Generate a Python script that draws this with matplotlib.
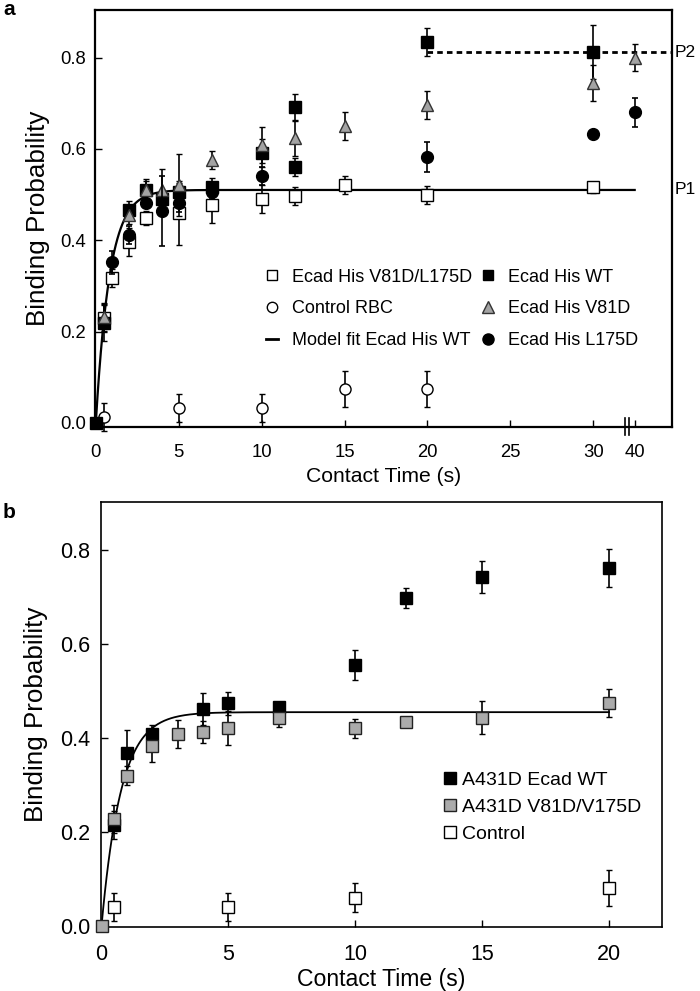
import numpy as np
import matplotlib.pyplot as plt
from matplotlib.lines import Line2D

plt.rcParams['font.family'] = ['Liberation Sans', 'DejaVu Sans']

# ---------------- panel a: Ecad His constructs ----------------
wt_t = [0, 0.5, 2, 3, 4, 5, 7, 10, 12, 12, 20, 30]
wt_p = [0.0, 0.219, 0.466, 0.51, 0.49, 0.505, 0.516, 0.591, 0.691, 0.56, 0.834, 0.812]
wt_err = [0, 0.04, 0.02, 0.02, 0.02, 0.02, 0.02, 0.03, 0.03, 0.02, 0.03, 0.06]

v81d_t = [0.5, 2, 3, 4, 5, 7, 10, 12, 15, 20, 30, 40]
v81d_p = [0.232, 0.455, 0.51, 0.51, 0.521, 0.575, 0.608, 0.624, 0.65, 0.696, 0.744, 0.80]
v81d_err = [0.03, 0.02, 0.025, 0.045, 0.068, 0.02, 0.04, 0.04, 0.03, 0.03, 0.04, 0.03]

l175d_t = [1, 2, 3, 4, 5, 7, 10, 20, 30, 40]
l175d_p = [0.352, 0.411, 0.481, 0.464, 0.481, 0.505, 0.54, 0.582, 0.632, 0.68]
l175d_err = [0.025, 0.02, 0.01, 0.077, 0.02, 0.015, 0.02, 0.032, 0, 0.032]

dbl_t = [0.5, 1, 2, 3, 5, 7, 10, 12, 15, 20, 30]
dbl_p = [0.23, 0.317, 0.396, 0.449, 0.46, 0.477, 0.49, 0.497, 0.521, 0.499, 0.516]
dbl_err = [0.03, 0.02, 0.03, 0.015, 0.07, 0.04, 0.03, 0.02, 0.02, 0.02, 0.012]

rbc_t = [0.5, 5, 10, 15, 20]
rbc_p = [0.013, 0.033, 0.033, 0.074, 0.074]
rbc_err = [0.031, 0.03, 0.03, 0.04, 0.04]

P1_a, K_a = 0.51, 1.2   # model fit Ecad His WT
P2_a = 0.812
xticks_a = [0, 5, 10, 15, 20, 25, 30, 40]

# ---------------- panel b: A431D cells ----------------
b_wt_t = [0.5, 1, 2, 4, 5, 7, 10, 12, 15, 20]
b_wt_p = [0.215, 0.368, 0.408, 0.462, 0.474, 0.466, 0.555, 0.698, 0.742, 0.762]
b_wt_err = [0.03, 0.05, 0.02, 0.034, 0.024, 0.01, 0.032, 0.021, 0.034, 0.04]

b_mut_t = [0, 0.5, 1, 2, 3, 4, 5, 7, 10, 12, 15, 20]
b_mut_p = [0.0, 0.228, 0.32, 0.383, 0.408, 0.413, 0.421, 0.443, 0.421, 0.434, 0.443, 0.474]
b_mut_err = [0, 0.03, 0.02, 0.034, 0.03, 0.023, 0.036, 0.02, 0.02, 0, 0.035, 0.03]

b_ctl_t = [0.5, 5, 10, 20]
b_ctl_p = [0.04, 0.04, 0.06, 0.081]
b_ctl_err = [0.03, 0.03, 0.031, 0.039]

P_b, K_b = 0.455, 1.3


def brk(t):
    # compress 30-40 s segment after the axis break
    t = np.asarray(t, dtype=float)
    return np.where(t > 30, 30 + (t - 30) * 0.25, t)


GRAY = '#a3a3a3'

fig = plt.figure(figsize=(7, 9.91), dpi=100)
ax1 = fig.add_axes([0.1357, 0.5691, 0.8243, 0.4208])
ax2 = fig.add_axes([0.1443, 0.0646, 0.8014, 0.4288])

# ---- panel a ----
eb = dict(ls='none', ecolor='black', elinewidth=1.2, capsize=2.2, capthick=1.2,
          clip_on=False)
ax1.errorbar(brk(dbl_t), dbl_p, yerr=dbl_err, marker='s', ms=8, mfc='white',
             mec='black', mew=1.0, zorder=3, **eb)
ax1.errorbar(brk(rbc_t), rbc_p, yerr=rbc_err, marker='o', ms=8, mfc='white',
             mec='black', mew=1.0, zorder=3, **eb)
ax1.errorbar(brk(wt_t), wt_p, yerr=wt_err, marker='s', ms=8, mfc='black',
             mec='black', mew=1.0, zorder=4, **eb)
ax1.errorbar(brk(v81d_t), v81d_p, yerr=v81d_err, marker='^', ms=9, mfc=GRAY,
             mec='#333333', mew=1.0, zorder=5, **eb)
ax1.errorbar(brk(l175d_t), l175d_p, yerr=l175d_err, marker='o', ms=8.5,
             mfc='black', mec='black', zorder=6, **eb)

t_fit = np.linspace(0, 40, 400)
ax1.plot(brk(t_fit), P1_a * (1 - np.exp(-K_a * t_fit)), color='black', lw=1.6,
         zorder=2)
ax1.plot([brk(20), 34.75], [P2_a, P2_a], color='black', lw=2,
         ls=(0, (2, 1.5)), zorder=2)

ax1.set_xlim(-0.05, 34.75)
ax1.set_ylim(-0.009, 0.904)
ax1.set_xticks(brk(xticks_a))
ax1.set_xticklabels([str(v) for v in xticks_a])
ax1.set_yticks([0.0, 0.2, 0.4, 0.6, 0.8])
ax1.set_yticklabels(['0.0', '0.2', '0.4', '0.6', '0.8'])
ax1.tick_params(direction='in', length=5, width=1, labelsize=13.3)
ax1.tick_params(axis='y', pad=6.5)
ax1.tick_params(axis='x', pad=12.5)
for s in ax1.spines.values():
    s.set_linewidth(1.6)

# axis break marks
for xb in (31.93, 32.17):
    ax1.plot([xb, xb], [-0.026, 0.010], color='black', lw=1.2, clip_on=False,
             zorder=7)

trans1 = ax1.get_yaxis_transform()
ax1.text(1.004, P2_a, 'P2', transform=trans1, ha='left', va='center', fontsize=12.5)
ax1.text(1.004, P1_a, 'P1', transform=trans1, ha='left', va='center', fontsize=12.5)

ax1.set_xlabel('Contact Time (s)', fontsize=15.2)
ax1.set_ylabel('Binding Probability', fontsize=18.7)
ax1.xaxis.set_label_coords(0.5, -0.096)
ax1.yaxis.set_label_coords(-0.078, 0.5)

h_a = [
    Line2D([], [], ls='none', marker='s', ms=7.5, mfc='white', mec='black'),
    Line2D([], [], ls='none', marker='o', ms=7.5, mfc='white', mec='black'),
    Line2D([], [], color='black', lw=2),
    Line2D([], [], ls='none', marker='s', ms=7.5, mfc='black', mec='black'),
    Line2D([], [], ls='none', marker='^', ms=8, mfc=GRAY, mec='#333333'),
    Line2D([], [], ls='none', marker='o', ms=8, mfc='black', mec='black'),
]
l_a = ['Ecad His V81D/L175D', 'Control RBC', 'Model fit Ecad His WT',
       'Ecad His WT', 'Ecad His V81D', 'Ecad His L175D']
ax1.legend(h_a, l_a, ncol=2, frameon=False, fontsize=13, loc='upper left',
           bbox_to_anchor=(0.3796, 0.729), bbox_transform=fig.transFigure,
           borderpad=0, borderaxespad=0, handlelength=0.7, handletextpad=0.77,
           columnspacing=0.5, labelspacing=0.82)

# ---- panel b ----
ax2.errorbar(b_ctl_t, b_ctl_p, yerr=b_ctl_err, marker='s', ms=8.5, mfc='white',
             mec='black', mew=1.0, zorder=3, **eb)
ax2.errorbar(b_wt_t, b_wt_p, yerr=b_wt_err, marker='s', ms=8.5, mfc='black',
             mec='black', mew=1.0, zorder=4, **eb)
ax2.errorbar(b_mut_t, b_mut_p, yerr=b_mut_err, marker='s', ms=8.5, mfc='#ababab',
             mec='#222222', mew=1.0, zorder=5, **eb)

t_fit_b = np.linspace(0, 20, 300)
ax2.plot(t_fit_b, P_b * (1 - np.exp(-K_b * t_fit_b)), color='black', lw=1.3,
         zorder=2)

ax2.set_xlim(-0.02, 22.09)
ax2.set_ylim(-0.002, 0.902)
ax2.set_xticks([0, 5, 10, 15, 20])
ax2.set_yticks([0.0, 0.2, 0.4, 0.6, 0.8])
ax2.set_yticklabels(['0.0', '0.2', '0.4', '0.6', '0.8'])
ax2.tick_params(direction='in', length=5, width=1, labelsize=15.5)
ax2.tick_params(axis='y', pad=8)
ax2.tick_params(axis='x', pad=12)
for s in ax2.spines.values():
    s.set_linewidth(1.2)

ax2.set_xlabel('Contact Time (s)', fontsize=16.6)
ax2.set_ylabel('Binding Probability', fontsize=18.7)
ax2.xaxis.set_label_coords(0.5, -0.097)
ax2.yaxis.set_label_coords(-0.094, 0.5)

h_b = [
    Line2D([], [], ls='none', marker='s', ms=8, mfc='black', mec='black'),
    Line2D([], [], ls='none', marker='s', ms=8, mfc='#ababab', mec='#222222'),
    Line2D([], [], ls='none', marker='s', ms=8, mfc='white', mec='black'),
]
l_b = ['A431D Ecad WT', 'A431D V81D/V175D', 'Control']
ax2.legend(h_b, l_b, frameon=False, fontsize=14, loc='upper left',
           bbox_to_anchor=(0.633, 0.222), bbox_transform=fig.transFigure,
           borderpad=0, borderaxespad=0, handlelength=0.7, handletextpad=0.27,
           labelspacing=0.5)

fig.text(3 / 700, 1 - 15 / 991, 'a', fontsize=15, fontweight='bold', va='baseline')
fig.text(3 / 700, 1 - 518 / 991, 'b', fontsize=15, fontweight='bold', va='baseline')

fig.savefig('out.png', dpi=100)
